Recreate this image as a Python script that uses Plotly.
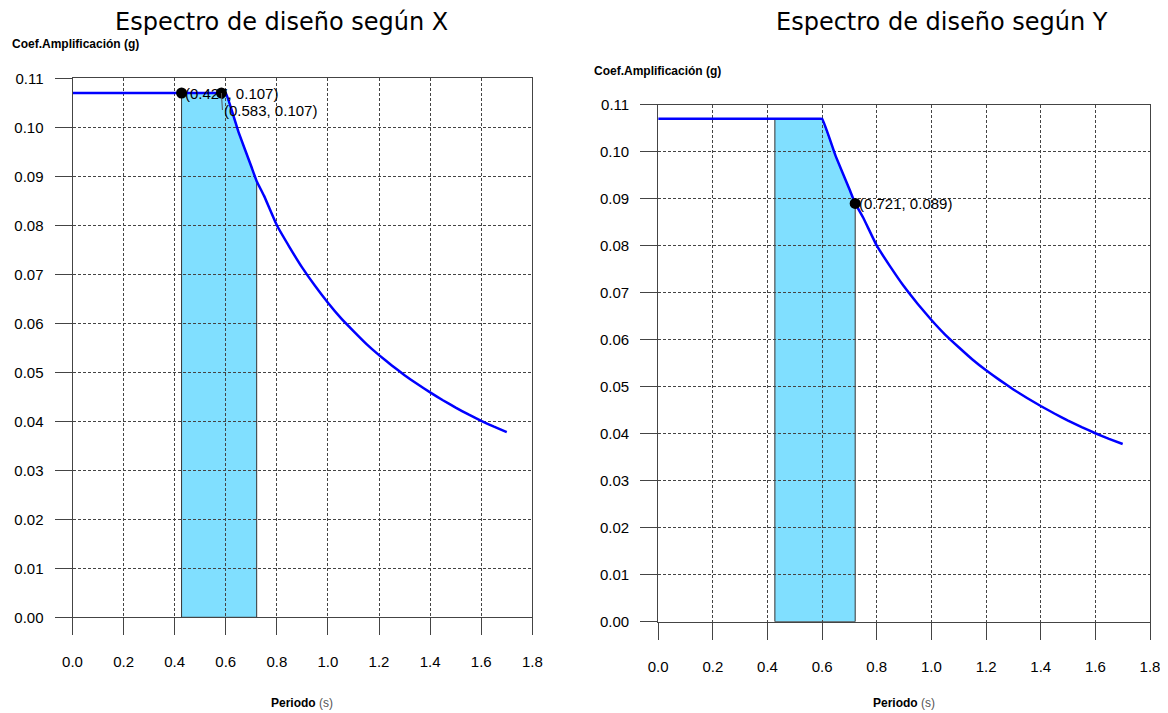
import numpy as np
import plotly.graph_objects as go

# ---- data ----
periodo = [0.0, 0.583, 0.6, 0.65, 0.7, 0.721, 0.75, 0.8, 0.85, 0.9, 0.95, 1.0, 1.05, 1.1, 1.15,
           1.2, 1.25, 1.3, 1.35, 1.4, 1.45, 1.5, 1.55, 1.6, 1.65, 1.7]
coef = [0.107, 0.107, 0.107, 0.099, 0.092, 0.089, 0.086, 0.080, 0.0755, 0.0713, 0.0676, 0.0642,
        0.0611, 0.0584, 0.0558, 0.0535, 0.0514, 0.0494, 0.0476, 0.0459, 0.0443, 0.0428, 0.0414,
        0.0401, 0.0389, 0.0378]

puntos_x_X = [0.427, 0.583]
puntos_y_X = [0.107, 0.107]
puntos_x_Y = [0.721]
puntos_y_Y = [0.089]

franja = [0.427, 0.721]   # shaded period band (same in both charts)

titulos = ["Espectro de diseño según X", "Espectro de diseño según Y"]
x_ticks = [0.0, 0.2, 0.4, 0.6, 0.8, 1.0, 1.2, 1.4, 1.6, 1.8]
y_ticks = [0.00, 0.01, 0.02, 0.03, 0.04, 0.05, 0.06, 0.07, 0.08, 0.09, 0.10, 0.11]

# the page body adds an 8px margin; the figure is sized to reach the window edges
OFF = 8
W, H = 1168 - OFF, 713 - OFF

def px(x):
    return (x - OFF) / W

def py(y):
    return 1 - (y - OFF) / H

fig = go.Figure()

# plot boxes (window pixels): left, top, right, bottom
boxes = [(72.5, 78.3, 532.3, 617.3), (658.2, 104.7, 1150.0, 621.7)]

for i, (l, t, r, b) in enumerate(boxes):
    sfx = "" if i == 0 else str(i + 1)
    xa, ya = "x" + sfx, "y" + sfx
    fig.add_trace(go.Scatter(x=periodo, y=coef, mode="lines",
                             line=dict(color="#0000FF", width=2.5, shape="spline", smoothing=0.3),
                             xaxis=xa, yaxis=ya, showlegend=False, hoverinfo="skip"))
    # shaded band under the curve
    fx = [franja[0]] + [p for p in periodo if franja[0] < p < franja[1]] + [franja[1]]
    fy = list(np.interp(fx, periodo, coef))
    path = f"M {fx[0]},0 " + " ".join(f"L {a},{c}" for a, c in zip(fx, fy)) + f" L {fx[-1]},0 Z"
    fig.add_shape(type="path", path=path, xref=xa, yref=ya, layer="below",
                  fillcolor="#80DFFF", line=dict(color="#333333", width=1))

    axis_common = dict(showline=True, mirror=True, linecolor="#444444", linewidth=1,
                       ticks="outside", ticklen=17, tickcolor="#444444", tickwidth=1,
                       showgrid=True, gridcolor="#444444", gridwidth=1, griddash="3px,2px",
                       zeroline=False, automargin=False, ticklabeloverflow="allow",
                       tickfont=dict(family="Liberation Sans, Arial", size=15, color="#000000"))
    fig.update_layout(**{
        ("xaxis" + sfx): dict(axis_common, domain=[px(l), px(r)], range=[0, 1.8],
                              tickvals=x_ticks, ticktext=[f"{v:.1f}" for v in x_ticks],
                              anchor=ya, ticklabelstandoff=14),
        ("yaxis" + sfx): dict(axis_common, domain=[py(b), py(t)], range=[0, 0.11],
                              tickvals=y_ticks, ticktext=[f"{v:.2f}" for v in y_ticks],
                              anchor=xa, ticklabelstandoff=8),
    })

    # titles
    cx = [281, 942][i]
    fig.add_annotation(text=titulos[i], x=px(cx), y=py(22), xref="paper", yref="paper",
                       xanchor="center", yanchor="middle", showarrow=False,
                       font=dict(family="DejaVu Sans", size=24, color="#000000"))
    fig.add_annotation(text="<b>Coef.Amplificación (g)</b>", x=px(l - 62.5 if i == 0 else l - 66),
                       y=py(t - 34), xref="paper", yref="paper", xanchor="left", yanchor="middle",
                       showarrow=False, font=dict(family="Liberation Sans, Arial", size=12, color="#000000"))
    fig.add_annotation(text="<b>Periodo</b> <span style='color:#555555'>(s)</span>",
                       x=px((l + r) / 2), y=py(703), xref="paper", yref="paper",
                       xanchor="center", yanchor="middle", showarrow=False,
                       font=dict(family="Liberation Sans, Arial", size=12, color="#000000"))

# marked points
fig.add_trace(go.Scatter(x=puntos_x_X, y=puntos_y_X, mode="markers",
                         marker=dict(color="#000000", size=11), xaxis="x", yaxis="y",
                         showlegend=False, hoverinfo="skip"))
fig.add_trace(go.Scatter(x=puntos_x_Y, y=puntos_y_Y, mode="markers",
                         marker=dict(color="#000000", size=11), xaxis="x2", yaxis="y2",
                         showlegend=False, hoverinfo="skip"))

lbl_font = dict(family="Liberation Sans, Arial", size=15, color="#000000")
fig.add_annotation(text=f"({puntos_x_X[0]:.3f}, {puntos_y_X[0]:.3f})", x=puntos_x_X[0], y=puntos_y_X[0],
                   xref="x", yref="y", xanchor="left", yanchor="middle", xshift=1,
                   showarrow=False, font=lbl_font)
fig.add_annotation(text=f"({puntos_x_X[1]:.3f}, {puntos_y_X[1]:.3f})", x=puntos_x_X[1], y=puntos_y_X[1],
                   xref="x", yref="y", xanchor="left", yanchor="middle",
                   showarrow=True, arrowhead=0, arrowwidth=1, arrowcolor="#555555",
                   ax=1, ay=17, font=lbl_font)
fig.add_annotation(text=f"({puntos_x_Y[0]:.3f}, {puntos_y_Y[0]:.3f})", x=puntos_x_Y[0], y=puntos_y_Y[0],
                   xref="x2", yref="y2", xanchor="left", yanchor="middle", xshift=2,
                   showarrow=False, font=lbl_font)

fig.update_layout(width=W, height=H, margin=dict(l=0, r=0, t=0, b=0),
                  paper_bgcolor="#FFFFFF", plot_bgcolor="#FFFFFF", showlegend=False)

fig.write_html("out.html")
